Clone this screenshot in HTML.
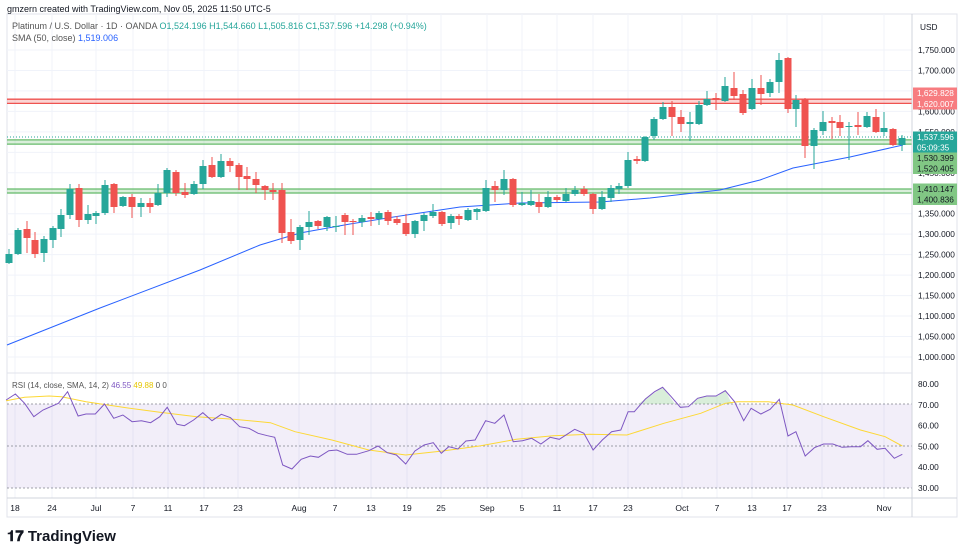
<!DOCTYPE html>
<html><head><meta charset="utf-8">
<style>
body{margin:0;background:#fff;width:964px;height:556px;overflow:hidden;font-family:"Liberation Sans",sans-serif}
svg{position:absolute;left:0;top:0}
text{font-family:"Liberation Sans",sans-serif}
</style></head><body>
<svg id="s" width="964" height="556" viewBox="0 0 964 556"></svg>
<script>
const s=document.getElementById('s');let h='';
const G='#26a69a',R='#ef5350';
h+='<rect x="7" y="14" width="950" height="503" fill="#fff" stroke="#e0e3eb"/>';
const vx=[15,52,96,133,168,204,238,299,335,371,407,441,487,522,557,593,628,682,717,752,787,822,884];
vx.forEach(x=>h+=`<line x1="${x}" y1="14" x2="${x}" y2="498" stroke="#f0f3fa"/>`);
const py=p=>50+(1750-p)*0.4093;
for(let p=1000;p<=1750;p+=50){const y=py(p);h+=`<line x1="7" y1="${y}" x2="912" y2="${y}" stroke="#f0f3fa"/>`;
h+=`<text x="918" y="${y+3}" font-size="8.3" fill="#131722">${(p/1000|0)},${String(p%1000).padStart(3,'0')}.000</text>`;}
[80,70,60,50,40,30].forEach(r=>{const y=384+(80-r)*2.08;h+=`<text x="918" y="${y+3}" font-size="8.3" fill="#131722">${r}.00</text>`;});
h+='<rect x="7" y="404" width="905" height="84" fill="#7e57c2" fill-opacity="0.1"/>';
[404,446,488].forEach(y=>h+=`<line x1="7" y1="${y}" x2="912" y2="${y}" stroke="#787b86" stroke-dasharray="2,2" stroke-opacity="0.7"/>`);
const zone=(a,b,c,f)=>{h+=`<rect x="7" y="${a}" width="905" height="${b-a}" fill="${f}"/><line x1="7" y1="${a}" x2="912" y2="${a}" stroke="${c}" stroke-width="1.3"/><line x1="7" y1="${b}" x2="912" y2="${b}" stroke="${c}" stroke-width="1.3"/>`;};
zone(99.2,103.4,'#ef5350','rgba(239,83,80,0.25)');
zone(139.9,144.1,'#66bb6a','rgba(102,187,106,0.25)');
zone(189,193,'#66bb6a','rgba(102,187,106,0.25)');
h+='<line x1="7" y1="137" x2="912" y2="137" stroke="#26a69a" stroke-dasharray="1,2"/>';
h+='<polyline fill="none" stroke="#2962ff" stroke-width="1" points="7,345 100,308 200,270 260,245 300,233 350,224 400,216 460,207 520,203 600,202 650,198 720,190 760,180 793,168 850,157 903,145"/>';
const C=[[9,254,263,249,264,G],[18,230,254,228,255,G],[27,229,238,221,253,R],[35,240,254,232,258,R],[44,239,253,236,262,G],[53,228,240,226,248,G],[61,215,229,209,237,G],[70,189,215,184,219,G],[79,188,220,184,227,R],[88,214,220,205,224,G],[96,213,216,211,224,G],[105,185,213,180,215,G],[114,184,207,183,213,R],[123,197,206,196,207,G],[132,197,207,194,218,R],[141,203,207,198,217,G],[150,203,207,198,213,R],[158,193,205,184,206,G],[167,170,193,168,197,G],[176,172,193,170,196,R],[185,192,195,183,198,R],[194,184,194,181,195,G],[203,166,184,160,189,G],[212,165,177,157,178,R],[221,161,177,154,178,G],[230,161,166,158,172,R],[239,165,177,163,190,R],[247,176,179,167,190,R],[256,179,185,172,193,R],[265,186,190,185,200,R],[273,190,192,183,200,R],[282,190,233,183,243,R],[291,232,241,219,244,R],[300,227,240,225,250,G],[309,222,227,211,235,G],[318,221,226,220,229,R],[327,217,227,216,231,G],[336,226,227,216,232,G],[345,215,222,213,235,R],[353,221,222,219,235,R],[362,218,222,215,227,G],[371,217,219,212,226,R],[379,213,219,211,225,G],[388,212,221,210,225,R],[397,219,223,216,225,R],[406,223,234,214,236,R],[415,221,234,220,238,G],[424,215,221,213,231,G],[433,212,216,204,218,G],[442,212,224,211,226,R],[451,216,223,214,229,G],[459,216,219,214,225,R],[468,210,220,208,221,G],[477,209,212,208,220,G],[486,188,211,180,212,G],[495,186,190,181,202,R],[504,179,190,170,195,G],[513,179,205,178,207,R],[522,203,205,192,206,G],[531,201,205,190,206,G],[539,202,207,194,213,R],[548,197,207,191,208,G],[557,197,200,195,202,R],[566,194,201,188,202,G],[575,190,194,186,196,G],[584,189,194,186,196,R],[593,194,209,193,214,R],[602,197,209,191,210,G],[611,188,198,185,202,G],[619,186,189,183,194,G],[628,160,186,152,188,G],[637,159,161,156,164,R],[645,137,161,136,162,G],[654,119,136,117,140,G],[663,107,119,102,120,G],[672,107,117,101,136,R],[681,117,124,110,132,R],[690,122,124,112,141,G],[699,105,124,101,125,G],[707,99,105,91,106,G],[716,98,100,93,110,R],[725,86,101,77,102,G],[734,88,96,72,100,R],[743,94,113,90,115,R],[752,88,109,79,110,G],[761,88,94,75,105,R],[770,82,93,79,97,G],[779,60,82,53,93,G],[788,58,109,57,113,R],[796,100,109,95,127,G],[805,99,146,98,158,R],[814,130,146,128,169,G],[823,122,131,111,135,G],[832,121,123,117,139,R],[840,122,128,115,136,R],[849,126,127,122,160,G],[858,125,127,112,135,R],[867,116,127,112,128,G],[876,117,132,109,133,R],[884,128,132,112,136,G],[893,129,145,128,146,R],[902,138,145,135,151,G]];
C.forEach(c=>{h+=`<line x1="${c[0]}" y1="${c[3]}" x2="${c[0]}" y2="${c[4]}" stroke="${c[5]}"/><rect x="${c[0]-3.5}" y="${c[1]}" width="7" height="${Math.max(1,c[2]-c[1])}" fill="${c[5]}"/>`;});
const rp=[[10,90],[25,72],[40,100],[55,140],[70,120],[95,100],[110,65],[127,138],[140,132],[155,132],[170,102],[185,145],[200,135],[215,155],[230,152],[245,158],[260,140],[272,112],[288,163],[300,167],[315,150],[330,128],[345,152],[360,133],[375,143],[390,170],[405,175],[420,190],[435,197],[447,202],[460,285],[475,297],[490,268],[505,258],[518,262],[535,242],[548,240],[565,253],[580,253],[600,242],[615,228],[630,248],[645,255],[660,282],[675,243],[690,225],[705,218],[718,250],[730,230],[745,237],[758,213],[773,210],[790,152],[805,160],[820,135],[835,215],[850,212],[865,205],[880,222],[895,202],[910,208],[935,178],[950,190],[965,240],[980,210],[995,185],[1010,180],[1022,125],[1032,125],[1050,87],[1065,65],[1078,52],[1092,80],[1107,112],[1120,110],[1135,85],[1150,78],[1165,78],[1180,62],[1195,95],[1210,152],[1222,115],[1238,132],[1253,118],[1268,88],[1282,198],[1295,185],[1310,258],[1325,233],[1340,222],[1355,222],[1370,232],[1385,230],[1400,230],[1412,212],[1427,238],[1440,235],[1455,265],[1468,253]];
const ys=[[10,92],[40,82],[80,78],[100,80],[140,95],[200,112],[260,127],[320,140],[380,148],[440,158],[480,185],[540,210],[600,240],[660,255],[720,243],[780,228],[840,208],[900,197],[960,193],[1020,195],[1080,160],[1140,130],[1180,100],[1200,95],[1250,95],[1290,105],[1340,140],[1400,180],[1440,200],[1468,228]];
const cv=a=>a.map(p=>`${(p[0]/1.627).toFixed(1)},${(370+p[1]/3).toFixed(1)}`).join(' ');
h+='<polygon points="638,404 650,396 663,387 675,404" fill="#66bb6a" fill-opacity="0.25"/><polygon points="692,404 700,397 718,396 725,390 732,404" fill="#66bb6a" fill-opacity="0.25"/>';
h+=`<polyline fill="none" stroke="#fdd835" stroke-width="1" points="${cv(ys)}"/>`;
h+=`<polyline fill="none" stroke="#7e57c2" stroke-width="1" points="${cv(rp)}"/>`;
h+='<line x1="912" y1="14" x2="912" y2="517" stroke="#d1d4dc"/><line x1="7" y1="373" x2="912" y2="373" stroke="#e0e3eb"/><line x1="7" y1="498" x2="957" y2="498" stroke="#d1d4dc"/>';
h+='<text x="920" y="30" font-size="8.3" fill="#131722">USD</text>';
const tl=['18','24','Jul','7','11','17','23','Aug','7','13','19','25','Sep','5','11','17','23','Oct','7','13','17','23','Nov'];
tl.forEach((t,i)=>h+=`<text x="${vx[i]}" y="511" font-size="8.5" fill="#131722" text-anchor="middle">${t}</text>`);
const bd=(y,t,bg,fc)=>h+=`<rect x="913" y="${y-5.5}" width="44" height="11" fill="${bg}"/><text x="917" y="${y+3}" font-size="8.3" fill="${fc||'#fff'}">${t}</text>`;
bd(93,'1,629.828','#f77c80');bd(104,'1,620.007','#f77c80');
bd(137,'1,537.596','#26a69a');bd(147.5,'05:09:35','#26a69a');
bd(158,'1,530.399','#81c784','#131722');bd(168.5,'1,520.405','#81c784','#131722');
bd(189,'1,410.147','#81c784','#131722');bd(199.5,'1,400.836','#81c784','#131722');
h+='<text x="7" y="12" font-size="9" fill="#131722">gmzern created with TradingView.com, Nov 05, 2025 11:50 UTC-5</text>';
h+='<text x="12" y="29" font-size="9" fill="#555"><tspan>Platinum / U.S. Dollar · 1D · OANDA </tspan><tspan fill="#26a69a">O1,524.196 H1,544.660 L1,505.816 C1,537.596 +14.298 (+0.94%)</tspan></text>';
h+='<text x="12" y="41" font-size="9" fill="#555">SMA (50, close) <tspan fill="#2962ff">1,519.006</tspan></text>';
h+='<text x="12" y="388" font-size="8" fill="#555">RSI (14, close, SMA, 14, 2) <tspan fill="#7e57c2">46.55</tspan> <tspan fill="#e6c600">49.88</tspan> 0 0</text>';
h+='<text x="7" y="541" font-size="15" font-weight="bold" fill="#131722">𝟏𝟕 TradingView</text>';
s.innerHTML=h;
</script>
</body></html>
